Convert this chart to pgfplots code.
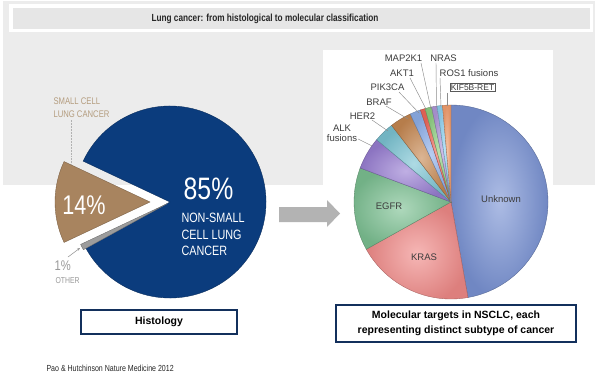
\documentclass[border=0pt]{standalone}
\usepackage{pgfplots}
\pgfplotsset{compat=1.18}
\usepackage{fontspec}
\setmainfont{Liberation Sans}
\newfontfamily\cond[FakeStretch=0.8]{Liberation Sans}
\usetikzlibrary{arrows.meta}

\definecolor{bggray}{HTML}{ECECEC}
\definecolor{titlegray}{HTML}{E6E6E6}
\definecolor{nsclc}{HTML}{0B3C7D}
\definecolor{sclc}{HTML}{A8845F}
\definecolor{other}{HTML}{9C9C9C}
\definecolor{tantext}{HTML}{B49C7E}
\definecolor{navy}{HTML}{13305C}
\definecolor{arrowgray}{HTML}{B3B3B3}
\definecolor{cUnk}{HTML}{7A93D4}
\definecolor{cKRAS}{HTML}{F08A88}
\definecolor{cEGFR}{HTML}{7CC092}
\definecolor{cALK}{HTML}{987ED2}
\definecolor{cHER2}{HTML}{7CC4D3}
\definecolor{cBRAF}{HTML}{C68852}
\definecolor{cPIK}{HTML}{8EB0EA}
\definecolor{cAKT}{HTML}{F0685A}
\definecolor{cMAP}{HTML}{90D082}
\definecolor{cNRAS}{HTML}{B199DA}
\definecolor{cROS}{HTML}{90D2F2}
\definecolor{cRET}{HTML}{F3A070}
\definecolor{labtext}{HTML}{3C3C3C}
\definecolor{leader}{HTML}{8C8C8C}

% flat pie slice: percentage, colour; uses \pcx, \pcy, \pr and running angle \curang
\newcommand\pieslice[2]{%
  \pgfmathsetmacro\ea{\curang-#1*3.6}%
  \edef\tmp{\noexpand\filldraw[fill=#2,draw=#2!72!black,line width=0.35pt]
    (axis cs:\pcx,\pcy) -- ([shift={(\curang:\pr pt)}]axis cs:\pcx,\pcy)
    arc[start angle=\curang,end angle=\ea,radius=\pr pt] -- cycle;}%
  \tmp
  \xdef\curang{\ea}%
}
% shaded pie slice
\newcommand\shslice[2]{%
  \pgfmathsetmacro\ea{\curang-#1*3.6}%
  \edef\tmp{\noexpand\shadedraw[inner color=#2!62!white,outer color=#2!92!black,
    draw=#2!70!black,line width=0.35pt]
    (axis cs:\pcx,\pcy) -- ([shift={(\curang:\pr pt)}]axis cs:\pcx,\pcy)
    arc[start angle=\curang,end angle=\ea,radius=\pr pt] -- cycle;}%
  \tmp
  \xdef\curang{\ea}%
}

\begin{document}
\begin{tikzpicture}
\begin{axis}[
  width=596pt, height=382pt, scale only axis,
  xmin=0, xmax=596, ymin=0, ymax=382, y dir=reverse,
  hide axis, clip=false]

% background panels
\fill[white] (0,0) rectangle (596,382);
\fill[bggray] (3,1) rectangle (595,185);
\fill[white] (9,4) rectangle (593,32);
\fill[titlegray] (13,8) rectangle (590,29);
\fill[white] (323,50) rectangle (553,186);

\node[font=\cond\bfseries\fontsize{10.3}{11}\selectfont, text=black!85] at (265,18.5)
  {Lung cancer: from histological to molecular classification};

% ---------- histology pie ----------
\def\pcx{170}\def\pcy{202}\def\pr{96}
\xdef\curang{154.8}
\pieslice{85}{nsclc}
\def\pcx{167.5}\def\pcy{203.5}
\pieslice{1}{other}
\def\pcx{150}\def\pcy{202}\def\pr{95}
\xdef\curang{-154.8}
\pieslice{14}{sclc}

\draw[black!30, densely dotted, line width=0.5pt] (71,120) -- (71,164);
\node[font=\cond\fontsize{9.6}{13}\selectfont, text=tantext, align=left, anchor=west] at (50,107.5)
  {SMALL CELL\\LUNG CANCER};
\node[font=\cond\fontsize{27}{27}\selectfont, text=white] at (84,205) {14\%};
\node[font=\cond\fontsize{31}{31}\selectfont, text=white] at (208.5,189) {85\%};
\node[font=\cond\fontsize{13.5}{16.5}\selectfont, text=white, align=left, anchor=west] at (178,234.5)
  {NON-SMALL\\CELL LUNG\\CANCER};
\node[font=\cond\fontsize{14}{14}\selectfont, text=black!40, anchor=west] at (51,266) {1\%};
\node[font=\cond\fontsize{8.6}{9}\selectfont, text=black!40, anchor=west] at (52,280.5) {OTHER};
\draw[black!45, line width=0.5pt, -{Stealth[length=3pt,width=2.5pt]}] (68,257) -- (80,248);

% arrow
\fill[arrowgray] (279,207) -- (327,207) -- (327,200) -- (340,213.5) -- (327,227) -- (327,222) -- (279,222) -- cycle;

% ---------- molecular pie ----------
\def\pcx{451}\def\pcy{202}\def\pr{97}
\xdef\curang{90}
\shslice{47.2}{cUnk}
\shslice{19.7}{cKRAS}
\shslice{13.8}{cEGFR}
\shslice{5.4}{cALK}
\shslice{3.4}{cHER2}
\shslice{3.6}{cBRAF}
\shslice{1.8}{cPIK}
\shslice{0.8}{cAKT}
\shslice{1.1}{cMAP}
\shslice{0.9}{cNRAS}
\shslice{0.9}{cROS}
\shslice{1.4}{cRET}

\begin{scope}[font=\fontsize{9.5}{10}\selectfont, text=labtext]
\node at (501,199) {Unknown};
\node at (389,206) {EGFR};
\node at (424,257) {KRAS};
\node at (403.5,58) {MAP2K1};
\node at (443.5,58) {NRAS};
\node at (402,73) {AKT1};
\node at (469,73) {ROS1 fusions};
\node at (387.5,87.5) {PIK3CA};
\node at (379,102) {BRAF};
\node at (362.5,116) {HER2};
\node[align=center, font=\fontsize{9.5}{10}\selectfont] at (342,133) {ALK\\fusions};
\node[draw=black!65, line width=0.45pt, inner sep=1pt, font=\fontsize{8.5}{9}\selectfont] at (472.5,87.5) {KIF5B-RET};
\end{scope}

\begin{scope}[leader, line width=0.45pt]
\draw (421,63) -- (431,109);
\draw (436,63) -- (436.5,108);
\draw (410,78) -- (426.5,110);
\draw (440,78) -- (441,107);
\draw (399,92) -- (419,113);
\draw (447,93) -- (447,106);
\draw (386,106) -- (408,119);
\draw (372,120) -- (388,131);
\draw (358,139) -- (372,146);
\end{scope}

% ---------- caption boxes ----------
\node[draw=navy, line width=2pt, fill=white, minimum width=156pt, minimum height=24pt,
  inner sep=0pt, font=\bfseries\fontsize{10.5}{12}\selectfont] at (159,322) {Histology};
\node[draw=navy, line width=2pt, fill=white, minimum width=240pt, minimum height=37pt,
  inner sep=0pt, align=center, font=\bfseries\fontsize{10.5}{15}\selectfont] at (456,323.5)
  {Molecular targets in NSCLC, each\\representing distinct subtype of cancer};

\node[font=\cond\fontsize{8.8}{9}\selectfont, text=black!85, anchor=west] at (43,368)
  {Pao \& Hutchinson Nature Medicine 2012};
\end{axis}
\end{tikzpicture}
\end{document}
